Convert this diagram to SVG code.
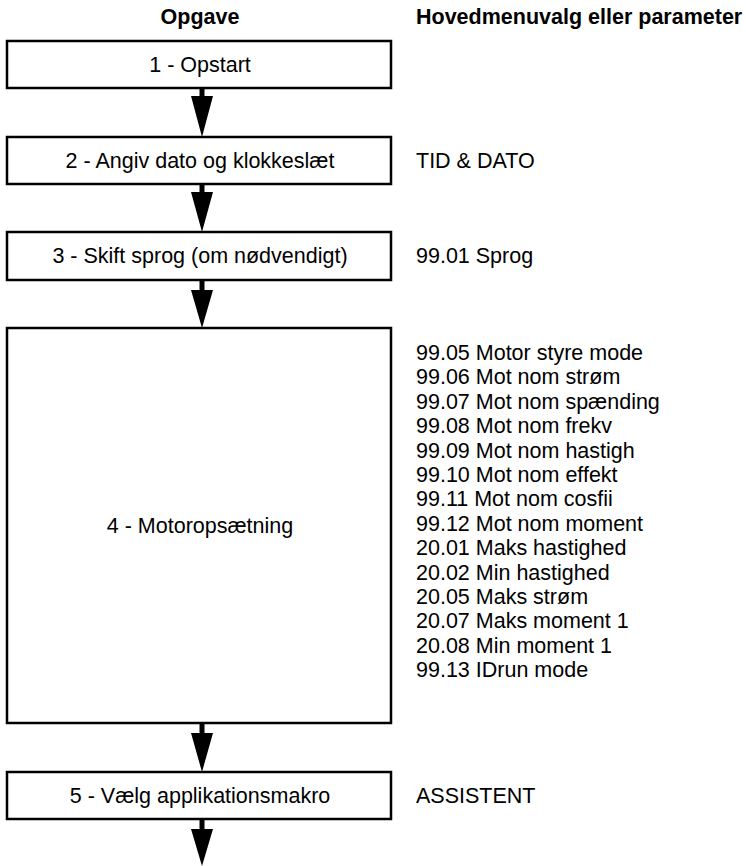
<svg xmlns="http://www.w3.org/2000/svg" width="746" height="866" viewBox="0 0 746 866">
<style>
text{font-family:"Liberation Sans",Arial,Helvetica,sans-serif;font-size:21.5px;fill:#000}
.h{font-weight:bold}
.c{text-anchor:middle}
.box{fill:#fff;stroke:#000;stroke-width:2.5}
.arr{fill:#000;stroke:none}
</style>
<rect width="746" height="866" fill="#fff"/>
<g id="headers">
<text class="h c" x="200" y="24">Opgave</text>
<text class="h" x="416" y="24">Hovedmenuvalg eller parameter</text>
</g>
<g id="connectors">
<path class="arr" d="M199.5 88 H204.5 V96 H213 L202 137 L191 96 H199.5 Z"/>
<path class="arr" d="M199.5 184 H204.5 V192 H213 L202 232 L191 192 H199.5 Z"/>
<path class="arr" d="M199.5 280 H204.5 V290 H213 L202 328 L191 290 H199.5 Z"/>
<path class="arr" d="M199.5 723 H204.5 V733 H213 L202 772 L191 733 H199.5 Z"/>
<path class="arr" d="M199.5 819 H204.5 V829 H213 L202 866 L191 829 H199.5 Z"/>
</g>
<g id="node1">
<rect class="box" x="7" y="41" width="384" height="47"/>
<text class="c" x="200" y="72">1 - Opstart</text>
</g>
<g id="node2">
<rect class="box" x="7" y="137" width="384" height="47"/>
<text class="c" x="200" y="168">2 - Angiv dato og klokkeslæt</text>
<text x="416" y="168">TID &amp; DATO</text>
</g>
<g id="node3">
<rect class="box" x="7" y="232" width="384" height="48"/>
<text class="c" x="200" y="263">3 - Skift sprog (om nødvendigt)</text>
<text x="416" y="263">99.01 Sprog</text>
</g>
<g id="node4">
<rect class="box" x="7" y="328" width="384" height="395"/>
<text class="c" x="200" y="533">4 - Motoropsætning</text>
<text x="416" y="360">
<tspan x="416" dy="0">99.05 Motor styre mode</tspan>
<tspan x="416" dy="24.4">99.06 Mot nom strøm</tspan>
<tspan x="416" dy="24.4">99.07 Mot nom spænding</tspan>
<tspan x="416" dy="24.4">99.08 Mot nom frekv</tspan>
<tspan x="416" dy="24.4">99.09 Mot nom hastigh</tspan>
<tspan x="416" dy="24.4">99.10 Mot nom effekt</tspan>
<tspan x="416" dy="24.4">99.11 Mot nom cosfii</tspan>
<tspan x="416" dy="24.4">99.12 Mot nom moment</tspan>
<tspan x="416" dy="24.4">20.01 Maks hastighed</tspan>
<tspan x="416" dy="24.4">20.02 Min hastighed</tspan>
<tspan x="416" dy="24.4">20.05 Maks strøm</tspan>
<tspan x="416" dy="24.4">20.07 Maks moment 1</tspan>
<tspan x="416" dy="24.4">20.08 Min moment 1</tspan>
<tspan x="416" dy="24.4">99.13 IDrun mode</tspan>
</text>
</g>
<g id="node5">
<rect class="box" x="7" y="772" width="384" height="47"/>
<text class="c" x="200" y="803">5 - Vælg applikationsmakro</text>
<text x="416" y="803">ASSISTENT</text>
</g>
</svg>
